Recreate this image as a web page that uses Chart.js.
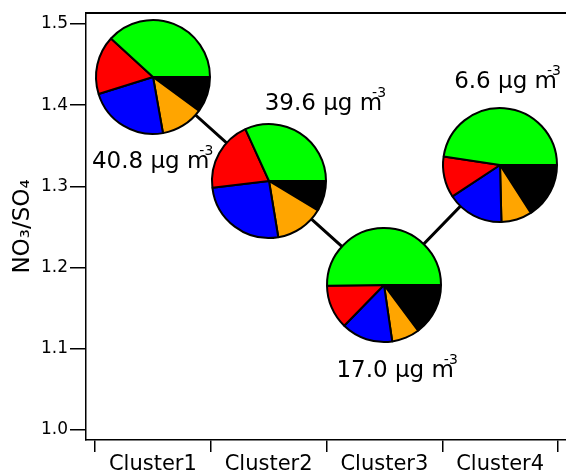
<!DOCTYPE html>
<html>
<head>
<meta charset="utf-8">
<script src="https://cdn.jsdelivr.net/npm/chart.js@4/dist/chart.umd.min.js"></script>
<style>
  html, body { margin: 0; padding: 0; background: #fff; }
  #wrap { position: relative; width: 566px; height: 475px; }
  #main { position: absolute; left: 0; top: 0; }
  .pie { position: absolute; }
</style>
</head>
<body>
<div id="wrap"><canvas id="main" width="566" height="475"></canvas></div>
<script>
// Back-trajectory clusters: NO3/SO4 ratio, total mass and composition
const clusters = ['Cluster1', 'Cluster2', 'Cluster3', 'Cluster4'];
const no3so4 = [1.435, 1.307, 1.179, 1.326];
const totalMass = [40.8, 39.6, 17.0, 6.6];
const yTicks = [1.0, 1.1, 1.2, 1.3, 1.4, 1.5];

// mass fractions, %
const org = [38.2, 31.8, 50.2, 47.6];
const so4 = [16.6, 20.1, 12.5, 11.7];
const no3 = [23.0, 25.7, 14.6, 16.1];
const nh4 = [12.1, 13.8, 7.9, 8.7];
const chl = [0.4, 0.4, 0.4, 0.5];
const bc  = [9.7, 8.2, 14.4, 15.4];

const FONT = "'DejaVu Sans', sans-serif";
Chart.defaults.font.family = FONT;
Chart.defaults.color = '#000';

// slices are drawn clockwise from 3 o'clock
const sliceNames  = ['BC', 'Chl', 'NH4', 'NO3', 'SO4', 'Org'];
const sliceColors = ['#000000', '#ff33ff', '#ffa500', '#0000ff', '#ff0000', '#00ff00'];

// text placement relative to each cluster point (left, baseline)
const labelOffsets = [[-61, 91], [-4, -71], [-48, 92], [-46, -77]];

const massLabels = {
  id: 'massLabels',
  afterDatasetsDraw(chart) {
    const ctx = chart.ctx;
    const meta = chart.getDatasetMeta(0);
    ctx.save();
    ctx.fillStyle = '#000';
    ctx.textAlign = 'left';
    ctx.textBaseline = 'alphabetic';
    meta.data.forEach((pt, i) => {
      const [dx, dy] = labelOffsets[i];
      const x = pt.x + dx, y = pt.y + dy;
      const txt = totalMass[i].toFixed(1) + ' µg m';
      ctx.font = '23px ' + FONT;
      ctx.fillText(txt, x, y);
      const w = ctx.measureText(txt).width;
      ctx.font = '14px ' + FONT;
      ctx.fillText('-3', x + w - 10, y - 13);
    });
    ctx.restore();
  }
};

const xMin = 0.4222, xMax = 4.569;

const chart = new Chart(document.getElementById('main'), {
  type: 'line',
  data: {
    datasets: [{
      data: clusters.map((c, i) => ({ x: i + 1, y: no3so4[i] })),
      borderColor: '#000',
      borderWidth: 3,
      pointRadius: 0,
      fill: false,
      tension: 0
    }]
  },
  options: {
    responsive: false,
    animation: false,
    devicePixelRatio: 1,
    layout: { padding: { top: 13, right: 0, left: 0, bottom: 0 } },
    plugins: { legend: { display: false }, tooltip: { enabled: false } },
    scales: {
      x: {
        type: 'linear', position: 'bottom', min: xMin, max: xMax,
        afterBuildTicks: s => { s.ticks = clusters.map((c, i) => ({ value: i + 1 })); },
        afterFit: s => { s.height = 35; },
        grid: { offset: true, drawOnChartArea: false, drawTicks: true, tickLength: 12, color: '#000', lineWidth: 1.5 },
        border: { display: true, color: '#000', width: 1.5 },
        ticks: { padding: 0, font: { size: 21 }, color: '#000', maxRotation: 0, autoSkip: false,
                 callback: (v, i) => clusters[i] }
      },
      xTop: {
        type: 'linear', position: 'top', min: xMin, max: xMax,
        afterFit: s => { s.height = 0; },
        grid: { drawOnChartArea: false, drawTicks: false },
        border: { display: true, color: '#000', width: 2 },
        ticks: { display: false }
      },
      y: {
        type: 'linear', position: 'left', min: 0.9877, max: 1.5135,
        afterBuildTicks: s => { s.ticks = yTicks.map(v => ({ value: v })); },
        afterFit: s => { s.width = 86; },
        grid: { drawOnChartArea: false, drawTicks: true, tickLength: 16, color: '#000', lineWidth: 1.5 },
        border: { display: true, color: '#000', width: 1.5 },
        ticks: { padding: 2, font: { size: 17 }, color: '#000', callback: v => v.toFixed(1) },
        title: { display: true, text: 'NO₃/SO₄', font: { size: 23 }, color: '#000', padding: { top: 9, bottom: 0 } }
      }
    }
  },
  plugins: [massLabels]
});

// composition pies centred on each cluster point
const wrap = document.getElementById('wrap');
const xs = chart.scales.x, ys = chart.scales.y;
const R = 57, S = 124;
clusters.forEach((c, i) => {
  const cx = xs.getPixelForValue(i + 1);
  const cy = ys.getPixelForValue(no3so4[i]);
  const cv = document.createElement('canvas');
  cv.width = S; cv.height = S; cv.className = 'pie';
  cv.style.left = (cx - S / 2) + 'px';
  cv.style.top = (cy - S / 2) + 'px';
  wrap.appendChild(cv);
  new Chart(cv, {
    type: 'pie',
    data: {
      labels: sliceNames,
      datasets: [{
        data: [bc[i], chl[i], nh4[i], no3[i], so4[i], org[i]],
        backgroundColor: sliceColors,
        borderColor: '#000',
        borderWidth: 2
      }]
    },
    options: {
      responsive: false,
      animation: false,
      devicePixelRatio: 1,
      rotation: 90,
      radius: R,
      layout: { padding: 0 },
      plugins: { legend: { display: false }, tooltip: { enabled: false } }
    }
  });
});
</script>
</body>
</html>
